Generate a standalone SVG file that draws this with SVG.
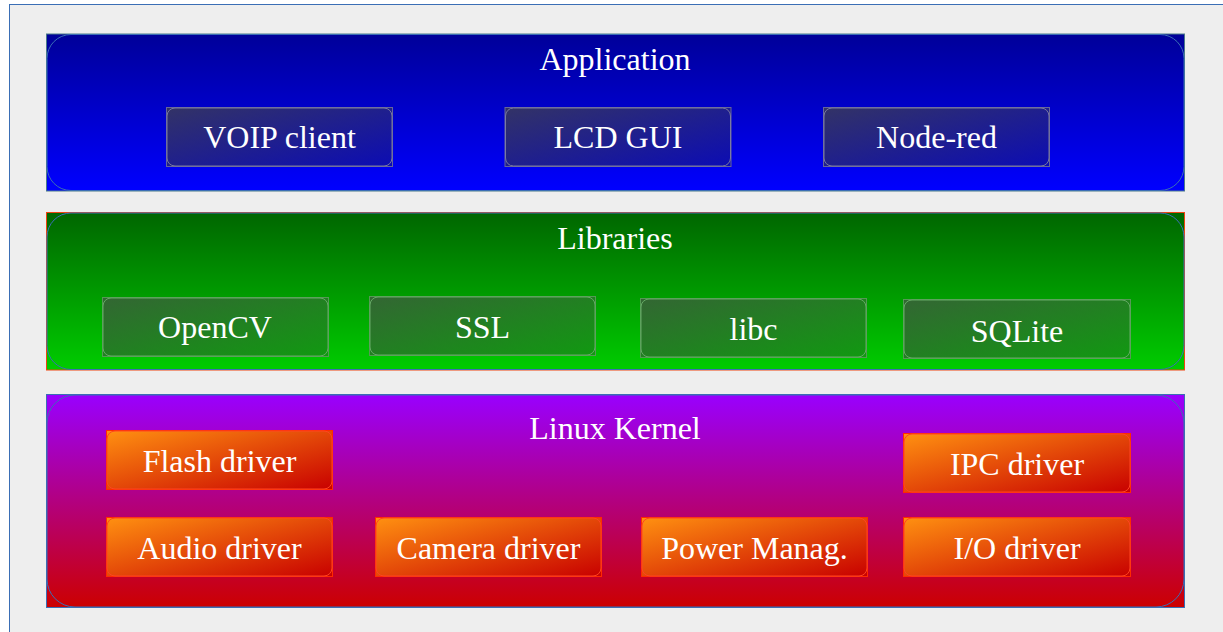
<svg xmlns="http://www.w3.org/2000/svg" width="1223" height="632" viewBox="0 0 1223 632">
<defs>
<linearGradient id="gApp" x1="0" y1="0" x2="0" y2="1"><stop offset="0" stop-color="#000099"/><stop offset="1" stop-color="#0000ff"/></linearGradient>
<linearGradient id="gLib" x1="0" y1="0" x2="0" y2="1"><stop offset="0" stop-color="#006600"/><stop offset="1" stop-color="#00cc00"/></linearGradient>
<linearGradient id="gKer" x1="0" y1="0" x2="0" y2="1"><stop offset="0" stop-color="#9900ff"/><stop offset="1" stop-color="#cc0000"/></linearGradient>
<linearGradient id="gAb" x1="0" y1="0" x2="1" y2="1"><stop offset="0" stop-color="#333366"/><stop offset="1" stop-color="#0c0cb4"/></linearGradient>
<linearGradient id="gLb" x1="0" y1="0" x2="1" y2="1"><stop offset="0" stop-color="#336633"/><stop offset="1" stop-color="#119911"/></linearGradient>
<linearGradient id="gKb" x1="0" y1="0" x2="1" y2="1"><stop offset="0" stop-color="#ff9111"/><stop offset="1" stop-color="#c80000"/></linearGradient>
</defs>
<style>
text{font-family:"Liberation Serif","Times New Roman",serif;font-size:32px;fill:#ffffff;text-anchor:middle}
.inner{fill:none;stroke:#3a6eb5;stroke-width:1}
.ab{fill:url(#gAb);stroke:#666699;stroke-width:1}
.abr{fill:none;stroke:#7a7aa0;stroke-width:1}
.lb{fill:url(#gLb);stroke:#559955;stroke-width:1}
.lbr{fill:none;stroke:#66aa66;stroke-width:1}
.kb{fill:url(#gKb);stroke:#ff2a00;stroke-width:1}
.kbr{fill:none;stroke:#ff4422;stroke-width:1}
</style>
<rect x="0" y="0" width="1223" height="632" fill="#ffffff"/>
<rect x="9.5" y="4.5" width="1220" height="640" fill="#eeeeee" stroke="#3a6eb5" stroke-width="1"/>

<g id="application">
<rect x="46.5" y="34" width="1138" height="157" fill="url(#gApp)" stroke="#4a7a8a" stroke-width="1"/>
<rect x="47" y="34.5" width="1137" height="156" rx="24" class="inner"/>
<text x="615" y="70">Application</text>
</g>
<g id="voip"><rect x="166.5" y="107.5" width="226" height="59" class="ab"/><rect x="167" y="108" width="225" height="58" rx="8" class="abr"/><text x="279.5" y="148">VOIP client</text></g>
<g id="lcdgui"><rect x="505" y="107.5" width="226" height="59" class="ab"/><rect x="505.5" y="108" width="225" height="58" rx="8" class="abr"/><text x="618" y="148">LCD GUI</text></g>
<g id="nodered"><rect x="823.5" y="107.5" width="226" height="59" class="ab"/><rect x="824" y="108" width="225" height="58" rx="8" class="abr"/><text x="936.5" y="148">Node-red</text></g>

<g id="libraries">
<rect x="46.5" y="212.5" width="1138" height="157.5" fill="url(#gLib)" stroke="#ee4411" stroke-width="1"/>
<rect x="47" y="213" width="1137" height="156.5" rx="24" class="inner"/>
<text x="615" y="249">Libraries</text>
</g>
<g id="opencv"><rect x="102.5" y="297.5" width="226" height="59" class="lb" stroke="#3a6eb5"/><rect x="103" y="298" width="225" height="58" rx="8" class="lbr"/><text x="215" y="338">OpenCV</text></g>
<g id="ssl"><rect x="369.5" y="296.5" width="226" height="59" class="lb"/><rect x="370" y="297" width="225" height="58" rx="8" class="lbr"/><text x="482.5" y="338">SSL</text></g>
<g id="libc"><rect x="640.5" y="298.5" width="226" height="59" class="lb"/><rect x="641" y="299" width="225" height="58" rx="8" class="lbr"/><text x="753.5" y="340">libc</text></g>
<g id="sqlite"><rect x="903.5" y="299.5" width="227" height="59" class="lb"/><rect x="904" y="300" width="226" height="58" rx="8" class="lbr"/><text x="1017" y="342">SQLite</text></g>

<g id="kernel">
<rect x="46.5" y="394.5" width="1138" height="213" fill="url(#gKer)" stroke="#3a6eb5" stroke-width="1"/>
<rect x="47" y="395" width="1137" height="212" rx="28" class="inner"/>
<text x="615" y="439">Linux Kernel</text>
</g>
<g id="flash"><rect x="106.5" y="430.5" width="226" height="59" class="kb"/><rect x="107" y="431" width="225" height="58" rx="8" class="kbr"/><text x="219.5" y="472">Flash driver</text></g>
<g id="ipc"><rect x="903.5" y="433.5" width="227" height="59" class="kb"/><rect x="904" y="434" width="226" height="58" rx="8" class="kbr"/><text x="1017" y="475">IPC driver</text></g>
<g id="audio"><rect x="106.5" y="517.5" width="226" height="59" class="kb" stroke="#3a6eb5"/><rect x="107" y="518" width="225" height="58" rx="8" class="kbr"/><text x="219.5" y="559">Audio driver</text></g>
<g id="camera"><rect x="375.5" y="517.5" width="226" height="59" class="kb"/><rect x="376" y="518" width="225" height="58" rx="8" class="kbr"/><text x="488.5" y="559">Camera driver</text></g>
<g id="power"><rect x="641.5" y="517.5" width="226" height="59" class="kb"/><rect x="642" y="518" width="225" height="58" rx="8" class="kbr"/><text x="754.5" y="559">Power Manag.</text></g>
<g id="io"><rect x="903.5" y="517.5" width="227" height="59" class="kb"/><rect x="904" y="518" width="226" height="58" rx="8" class="kbr"/><text x="1017" y="559">I/O driver</text></g>
<g id="connectors"></g>
</svg>
